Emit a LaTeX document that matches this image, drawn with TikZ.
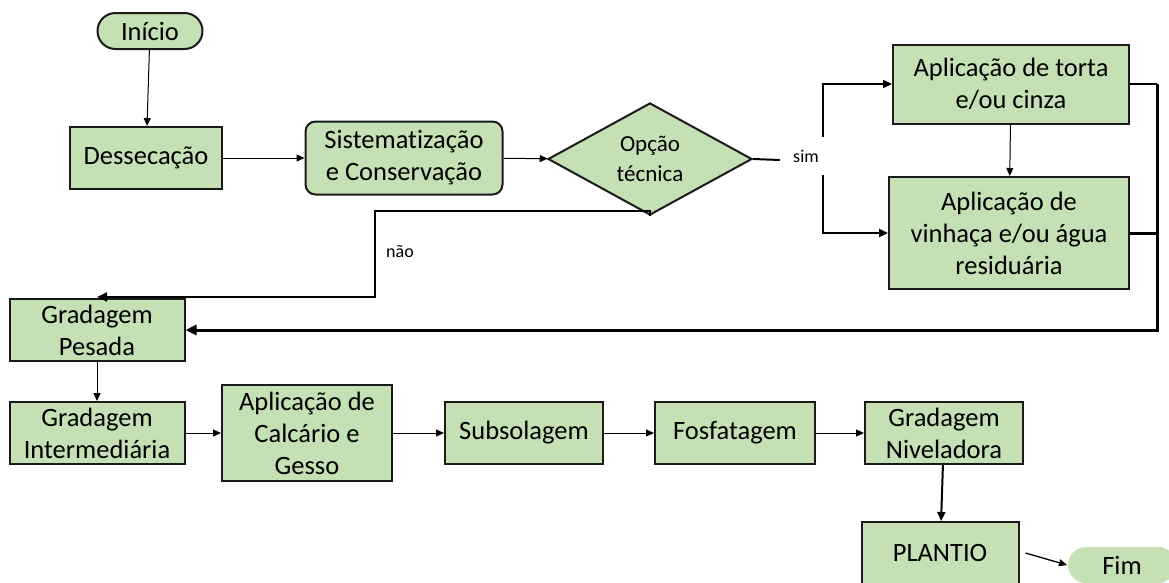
\documentclass[tikz,border=0pt]{standalone}
\usepackage{fontspec}
\setmainfont{Carlito}[Ligatures=NoCommon]
\usetikzlibrary{arrows.meta,shapes.geometric}
\definecolor{boxfill}{HTML}{C5E0B4}
\definecolor{boxline}{HTML}{1A1A1A}

\begin{document}
\begin{tikzpicture}[x=1pt,y=-1pt,
  box/.style={draw=boxline,line width=2pt,fill=boxfill,inner sep=0pt,align=center,
    font=\fontsize{26.5}{32}\selectfont},
  pill/.style={box,rounded corners=18pt},
  decision/.style={diamond,draw=boxline,line width=2pt,fill=boxfill,inner sep=0pt,
    align=center,font=\fontsize{23}{30}\selectfont},
  lbl/.style={inner sep=0pt,font=\fontsize{18}{20}\selectfont},
  flow/.style={line width=1pt,-{Triangle[length=8pt,width=7pt]}},
  link/.style={line width=2pt},
  heavy/.style={line width=3pt},
]
\useasboundingbox (0,0) rectangle (1169,582);
\clip (0,0) rectangle (1169,582);

% start and first steps
\node[pill,minimum width=105pt,minimum height=36pt] (ini) at (150,31) {Início};
\node[box,minimum width=152pt,minimum height=62pt] (des) at (146,158) {Dessecação};
\node[box,rounded corners=10pt,minimum width=197pt,minimum height=73pt] (sis) at (404,158)
  {Sistematização\\e Conservação};
\node[decision,minimum width=204pt,minimum height=108pt] (dia) at (650,159) {Opção\\técnica};

% "sim" branch
\node[box,minimum width=236pt,minimum height=79pt] (tor) at (1011,84) {Aplicação de torta\\e/ou cinza};
\node[box,minimum width=240pt,minimum height=112pt] (vin) at (1009,233)
  {Aplicação de\\vinhaça e/ou água\\residuária};

% soil preparation row
\node[box,minimum width=175pt,minimum height=62pt] (pes) at (97,330) {Gradagem\\Pesada};
\node[box,minimum width=175pt,minimum height=62pt] (int) at (97,433) {Gradagem\\Intermediária};
\node[box,minimum width=170pt,minimum height=96pt] (cal) at (307,433) {Aplicação de\\Calcário e\\Gesso};
\node[box,minimum width=158pt,minimum height=62pt] (sub) at (524,433) {Subsolagem};
\node[box,minimum width=160pt,minimum height=62pt] (fos) at (735,433) {Fosfatagem};
\node[box,minimum width=158pt,minimum height=62pt] (niv) at (944,433) {Gradagem\\Niveladora};
\node[box,minimum width=157pt,minimum height=62pt] (pla) at (940,553) {PLANTIO};
\node[box,draw=none,rounded corners=18pt,minimum width=108pt,minimum height=36pt] (fim) at (1122,565) {Fim};

% branch labels
\node[lbl] (sim) at (806,156) {sim};
\node[lbl] (nao) at (400,252) {não};

% helper points of the branch lines
\coordinate (simL) at (780,160);
\coordinate (simT) at (823,137);
\coordinate (simB) at (823,175);
\coordinate (naoC) at (375,211);
\coordinate (naoD) at (375,297);
\coordinate (naoE) at (97,297);
\coordinate (retT) at (1157,84);
\coordinate (retB) at (1157,330);

% connectors
\draw[flow] (ini) -- (des);
\draw[flow] (des) -- (sis);
\draw[flow] (sis) -- (dia);
\draw[link] (dia.east) -- (simL);
\draw[link,-{Triangle[length=9pt,width=8pt]}] (simT) |- (tor.west);
\draw[link,-{Triangle[length=9pt,width=8pt]}] (simB) |- (vin.west);
\draw[flow] (tor) -- (vin);
\draw[link,-{Triangle[length=10pt,width=9pt]}] (dia.south) -- (naoC -| dia.south) -- (naoC) -- (naoD) -- (naoE);
\draw[link] (tor.east) -- (retT);
\draw[heavy] (vin.east) -- (vin.east -| retT);
\draw[heavy,-{Triangle[length=11pt,width=10pt]}] (retT) -- (retB) -- (pes.east);
\draw[flow] (pes) -- (int);
\draw[flow] (int) -- (cal);
\draw[flow] (cal) -- (sub);
\draw[flow] (sub) -- (fos);
\draw[flow] (fos) -- (niv);
\draw[line width=2pt,-{Triangle[length=9pt,width=8pt]}] (niv) -- (pla);
\draw[flow,line width=1.3pt] ([xshift=6pt]pla.east) -- (fim.west);
\end{tikzpicture}
\end{document}
